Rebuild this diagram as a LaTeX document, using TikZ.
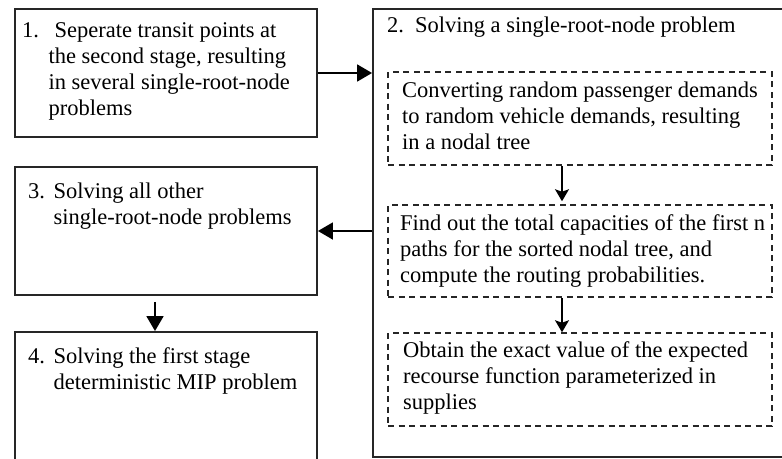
\documentclass[tikz,border=0pt]{standalone}
\usepackage{fontspec}
\setmainfont{Liberation Serif}
\usetikzlibrary{arrows.meta,positioning}

\tikzset{
  mainbox/.style={draw=black!85,line width=1.9pt,inner sep=0pt},
  subbox/.style={draw=black!85,line width=1.5pt,dash pattern=on 6pt off 4.5pt,inner sep=0pt,
                 minimum width=384pt},
  txt/.style={anchor=base west,inner sep=0pt,font=\fontsize{22.5}{26}\selectfont},
  bigarrow/.style={line width=1.9pt,-{Triangle[length=15pt,width=17pt]}},
  smallarrow/.style={line width=1.5pt,-{Stealth[length=12pt,width=14pt,inset=2.5pt]}}
}

\begin{document}
\begin{tikzpicture}[x=1pt,y=-1pt]
  \useasboundingbox (0,0) rectangle (782,458);
  \clip (0,0) rectangle (782,458);

  % left column
  \node[mainbox,minimum width=302pt,minimum height=128pt] (step1) at (166,73) {};
  \node[mainbox,minimum width=302pt,minimum height=128pt] (step3) at (166,231) {};
  \node[mainbox,minimum width=302pt,minimum height=148pt] (step4) at (166,406) {};

  % right column
  \node[mainbox,minimum width=427pt,minimum height=448pt] (step2) at (586.5,233) {};
  \node[subbox,minimum height=93pt] (sub1) at (580,118.5) {};
  \node[subbox,minimum height=92pt] (sub2) at (580,251) {};
  \node[subbox,minimum height=93pt] (sub3) at (580,379.5) {};

  % texts
  \node[txt] (t1) at (22,37) {\begin{tabular}[t]{@{}l@{\hspace{9.5pt}}l@{}}
    1. & \hspace{6pt}Seperate transit points at\\
       & the second stage, resulting\\
       & in several single-root-node\\
       & problems\end{tabular}};
  \node[txt] (t2) at (387,32) {\begin{tabular}[t]{@{}l@{\hspace{11pt}}l@{}}
    2. & Solving a single-root-node problem\end{tabular}};
  \node[txt] (t3) at (28,198) {\begin{tabular}[t]{@{}l@{\hspace{8.5pt}}l@{}}
    3. & Solving all other\\
       & single-root-node problems\end{tabular}};
  \node[txt] (t4) at (28,363) {\begin{tabular}[t]{@{}l@{\hspace{8.5pt}}l@{}}
    4. & Solving the first stage\\
       & deterministic MIP problem\end{tabular}};

  \node[txt] (s1) at (402,97) {\begin{tabular}[t]{@{}l@{}}
    Converting random passenger demands\\
    to random vehicle demands, resulting\\
    in a nodal tree\end{tabular}};
  \node[txt] (s2) at (400,230) {\begin{tabular}[t]{@{}l@{}}
    Find out the total capacities of the first n\\
    paths for the sorted nodal tree, and\\
    compute the routing probabilities.\end{tabular}};
  \node[txt] (s3) at (403,357) {\begin{tabular}[t]{@{}l@{}}
    Obtain the exact value of the expected\\
    recourse function parameterized in\\
    supplies\end{tabular}};

  % connectors
  \draw[bigarrow] (step1.east) -- (step1.east -| step2.west);
  \draw[bigarrow] (step3.east -| step2.west) -- (step3.east);
  \draw[bigarrow] ([xshift=-11pt,yshift=-6pt]step3.south) -- ([xshift=-11pt]step4.north);
  \draw[smallarrow] ([xshift=-18pt]sub1.south) -- ([xshift=-18pt,yshift=3pt]sub2.north);
  \draw[smallarrow] ([xshift=-18pt]sub2.south) -- ([xshift=-18pt]sub3.north);
\end{tikzpicture}
\end{document}
